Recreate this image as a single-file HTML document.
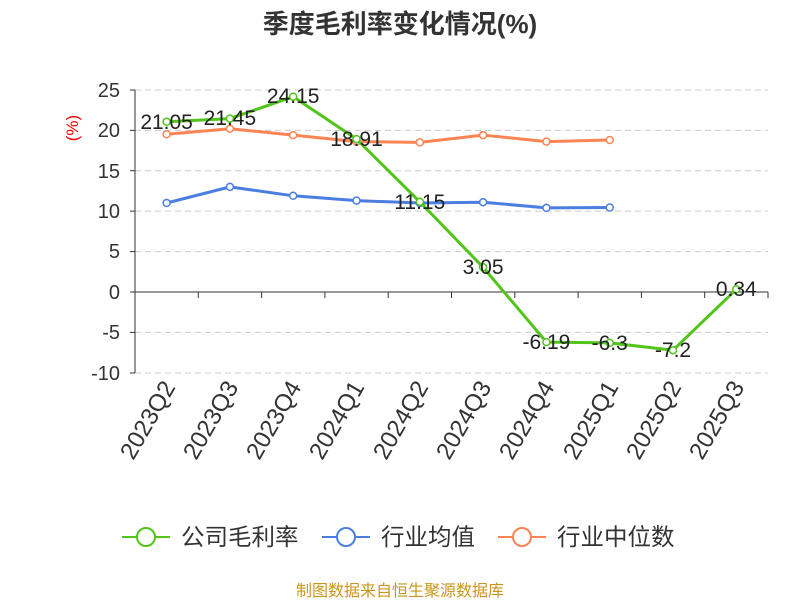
<!DOCTYPE html>
<html><head><meta charset="utf-8"><style>body{margin:0;background:#fff}svg{display:block}text{font-family:"Liberation Sans","Noto Sans CJK SC",sans-serif}.dj{font-family:"DejaVu Sans",sans-serif}</style></head><body>
<svg width="800" height="600" viewBox="0 0 800 600">
<text x="400" y="33" text-anchor="middle" font-size="26" font-weight="bold" fill="#333">季度毛利率变化情况(%)</text>
<text x="78" y="128" font-size="17" fill="#e00" text-anchor="middle" transform="rotate(-90 78 128)">(%)</text>
<g stroke="#ccc" stroke-dasharray="6,4" stroke-width="1">
<line x1="135" x2="768" y1="90" y2="90"/><line x1="135" x2="768" y1="130.4" y2="130.4"/><line x1="135" x2="768" y1="170.7" y2="170.7"/><line x1="135" x2="768" y1="211.1" y2="211.1"/><line x1="135" x2="768" y1="251.6" y2="251.6"/><line x1="135" x2="768" y1="332.4" y2="332.4"/><line x1="135" x2="768" y1="373" y2="373"/>
</g>
<g stroke="#333" stroke-width="1">
<line x1="135" y1="90" x2="135" y2="373"/>
<line x1="135" y1="292" x2="768" y2="292"/>
<line x1="130" x2="135" y1="90" y2="90"/><line x1="130" x2="135" y1="130.4" y2="130.4"/><line x1="130" x2="135" y1="170.7" y2="170.7"/><line x1="130" x2="135" y1="211.1" y2="211.1"/><line x1="130" x2="135" y1="251.6" y2="251.6"/><line x1="130" x2="135" y1="292" y2="292"/><line x1="130" x2="135" y1="332.4" y2="332.4"/><line x1="130" x2="135" y1="373" y2="373"/>
<line x1="198.3" x2="198.3" y1="292" y2="298"/><line x1="261.6" x2="261.6" y1="292" y2="298"/><line x1="324.9" x2="324.9" y1="292" y2="298"/><line x1="388.2" x2="388.2" y1="292" y2="298"/><line x1="451.5" x2="451.5" y1="292" y2="298"/><line x1="514.8" x2="514.8" y1="292" y2="298"/><line x1="578.1" x2="578.1" y1="292" y2="298"/><line x1="641.4" x2="641.4" y1="292" y2="298"/><line x1="704.7" x2="704.7" y1="292" y2="298"/><line x1="768" x2="768" y1="292" y2="298"/>
</g>
<g class="dj" font-size="20" fill="#333" text-anchor="end">
<text x="120" y="97">25</text><text x="120" y="137">20</text><text x="120" y="178">15</text><text x="120" y="218">10</text><text x="120" y="258">5</text><text x="120" y="299">0</text><text x="120" y="339">-5</text><text x="120" y="380">-10</text>
</g>
<g class="dj" font-size="24" fill="#333" text-anchor="end">
<text transform="translate(176,387) rotate(-60)">2023Q2</text>
<text transform="translate(239,387) rotate(-60)">2023Q3</text>
<text transform="translate(302,387) rotate(-60)">2023Q4</text>
<text transform="translate(365,387) rotate(-60)">2024Q1</text>
<text transform="translate(429,387) rotate(-60)">2024Q2</text>
<text transform="translate(492,387) rotate(-60)">2024Q3</text>
<text transform="translate(555,387) rotate(-60)">2024Q4</text>
<text transform="translate(619,387) rotate(-60)">2025Q1</text>
<text transform="translate(682,387) rotate(-60)">2025Q2</text>
<text transform="translate(745,387) rotate(-60)">2025Q3</text>
</g>
<g fill="#fff" stroke-width="1.5">
<polyline fill="none" stroke="#4a7ee0" stroke-width="3" points="166.6,203 229.9,186.9 293.2,195.8 356.5,200.6 419.8,203 483.1,202.2 546.4,207.9 609.7,207.5"/>
<g stroke="#4a7ee0"><circle cx="166.6" cy="203" r="3.5"/><circle cx="229.9" cy="186.9" r="3.5"/><circle cx="293.2" cy="195.8" r="3.5"/><circle cx="356.5" cy="200.6" r="3.5"/><circle cx="419.8" cy="203" r="3.5"/><circle cx="483.1" cy="202.2" r="3.5"/><circle cx="546.4" cy="207.9" r="3.5"/><circle cx="609.7" cy="207.5" r="3.5"/></g>
<polyline fill="none" stroke="#fc8452" stroke-width="3" points="166.6,134.3 229.9,128.7 293.2,135.1 356.5,141.6 419.8,142.4 483.1,135.1 546.4,141.6 609.7,140"/>
<g stroke="#fc8452"><circle cx="166.6" cy="134.3" r="3.5"/><circle cx="229.9" cy="128.7" r="3.5"/><circle cx="293.2" cy="135.1" r="3.5"/><circle cx="356.5" cy="141.6" r="3.5"/><circle cx="419.8" cy="142.4" r="3.5"/><circle cx="483.1" cy="135.1" r="3.5"/><circle cx="546.4" cy="141.6" r="3.5"/><circle cx="609.7" cy="140" r="3.5"/></g>
<polyline fill="none" stroke="#52c41a" stroke-width="3" points="166.6,121.8 229.9,118.6 293.2,96.7 356.5,139.1 419.8,201.8 483.1,267.3 546.4,342.1 609.7,342.9 673,350.2 736.3,289.3"/>
<g stroke="#52c41a"><circle cx="166.6" cy="121.8" r="3.5"/><circle cx="229.9" cy="118.6" r="3.5"/><circle cx="293.2" cy="96.7" r="3.5"/><circle cx="356.5" cy="139.1" r="3.5"/><circle cx="419.8" cy="201.8" r="3.5"/><circle cx="483.1" cy="267.3" r="3.5"/><circle cx="546.4" cy="342.1" r="3.5"/><circle cx="609.7" cy="342.9" r="3.5"/><circle cx="673" cy="350.2" r="3.5"/><circle cx="736.3" cy="289.3" r="3.5"/></g>
</g>
<g class="dj" font-size="21" fill="#222" text-anchor="middle">
<text x="166.6" y="129">21.05</text><text x="229.9" y="125">21.45</text><text x="293.2" y="103">24.15</text><text x="356.5" y="146">18.91</text><text x="419.8" y="209">11.15</text><text x="483.1" y="274">3.05</text><text x="546.4" y="349">-6.19</text><text x="609.7" y="350">-6.3</text><text x="673" y="357">-7.2</text><text x="736.3" y="296">0.34</text>
</g>
<g stroke-width="2" fill="#fff">
<line x1="122" x2="170" y1="537" y2="537" stroke="#52c41a"/><circle cx="146" cy="537" r="9" stroke="#52c41a"/>
<line x1="322" x2="370" y1="537" y2="537" stroke="#4a7ee0"/><circle cx="346" cy="537" r="9" stroke="#4a7ee0"/>
<line x1="498" x2="546" y1="537" y2="537" stroke="#fc8452"/><circle cx="522" cy="537" r="9" stroke="#fc8452"/>
</g>
<g font-size="23.5" fill="#333"><text x="181" y="545">公司毛利率</text><text x="381" y="545">行业均值</text><text x="557" y="545">行业中位数</text></g>
<text x="400" y="596" text-anchor="middle" font-size="16" fill="#c8961e">制图数据来自恒生聚源数据库</text>
</svg>
</body></html>
